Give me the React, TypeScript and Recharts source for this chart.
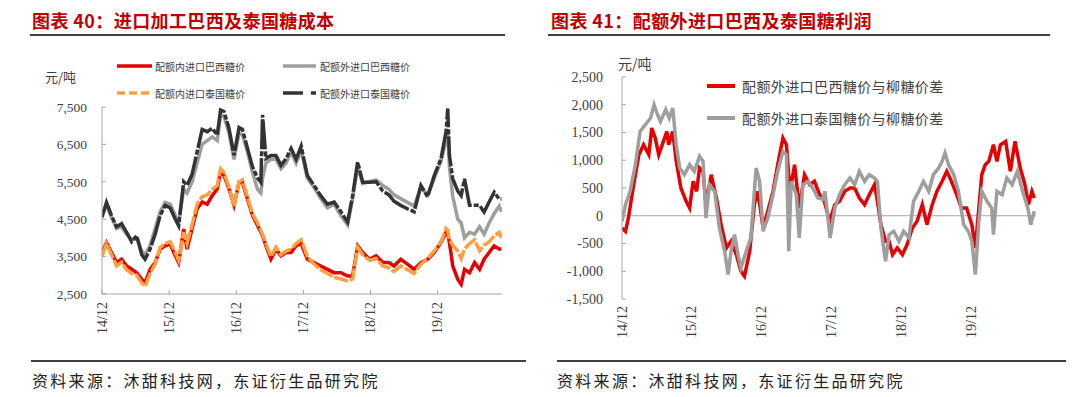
import React from 'react';
import { LineChart, Line, XAxis, YAxis, ReferenceLine } from 'recharts';

// ---------- Left chart: import processing cost (元/吨) ----------
const leftMonths = [
  0, 0.8, 1.7, 2.6, 3.5, 4.4, 5.3, 6.2, 7.1, 7.7, 8.6, 9.5, 10.4, 11.3, 12.2, 13.1, 13.7, 14.6, 15.2, 16.1,
  17, 17.9, 18.8, 19.7, 20.6, 21.2, 21.8, 22.7, 23.6, 24.5, 25.1, 26, 26.9, 27.8, 28.4, 28.7, 29.3, 30.2, 31.1, 32,
  32.9, 33.8, 34.7, 35.6, 36.7, 37.9, 39.1, 40.3, 41.5, 42.7, 43.9, 44.8, 45.7, 46.6, 47.8, 49, 50.2, 51.3, 52.2, 53.4,
  54.6, 55.8, 57, 58.2, 59.4, 60.6, 61.5, 61.8, 62.1, 62.7, 63.6, 64.2, 64.8, 65.7, 66.6, 67.5, 68.3, 69.2, 70.1, 71, 71.4,
];
const brazilInQuota = [
  3600, 3880, 3610, 3340, 3430, 3250, 3160, 3070, 2890, 2800, 3160, 3340, 3700, 3790, 3830, 3520, 3340, 4240, 3700, 4240,
  4780, 4960, 4900, 5130, 5310, 5760, 5670, 5310, 4870, 5490, 5490, 5040, 4600, 4330, 4150, 4060, 3790, 3430, 3700, 3520,
  3610, 3610, 3790, 3850, 3430, 3340, 3250, 3160, 3070, 3070, 2980, 2980, 3790, 3610, 3430, 3520, 3340, 3340, 3250, 3430,
  3300, 3160, 3340, 3430, 3610, 3880, 4150, 4100, 3880, 3250, 2890, 2760, 3160, 3070, 3340, 3160, 3430, 3610, 3790, 3700, 3700,
];
const brazilOutQuota = [
  4650, 4850, 4550, 4250, 4300, 4100, 3950, 4000, 3650, 3550, 3800, 4250, 4700, 4950, 4900, 4600, 4400, 5300, 5200, 5500,
  6000, 6500, 6600, 6700, 6600, 7300, 7250, 6800, 6100, 6800, 6750, 6300, 5750, 5300, 5200, 5600, 6000, 6100, 6100, 5850,
  6000, 6300, 6000, 6350, 5600, 5350, 5050, 4800, 4900, 4600, 4350, 5050, 5900, 5450, 5500, 5550, 5400, 5300, 5150, 5050,
  4950, 4850, 5350, 5150, 5600, 6050, 6600, 6900, 5900, 5100, 4500, 4400, 4000, 4150, 4100, 4300, 4100, 4400, 4650, 4850, 4700,
];
const thaiInQuota = [
  3500, 3850, 3550, 3250, 3350, 3150, 3050, 3000, 2800, 2700, 3050, 3300, 3750, 3850, 3900, 3600, 3400, 4150, 3850, 4350,
  4900, 5100, 5150, 5300, 5400, 5850, 5750, 5350, 4850, 5500, 5550, 5100, 4650, 4400, 4200, 4100, 3850, 3500, 3750, 3550,
  3650, 3700, 3850, 3950, 3500, 3300, 3150, 3050, 2950, 2900, 2850, 2900, 3750, 3550, 3400, 3450, 3250, 3200, 3100, 3250,
  3150, 3050, 3300, 3450, 3650, 3900, 4250, 4200, 3950, 3800, 3650, 3450, 3700, 3850, 3950, 3650, 3800, 3900, 4050, 4150, 4000,
];
const thaiOutQuota = [
  4550, 4950, 4600, 4300, 4380, 4150, 3900, 4060, 3550, 3430, 3700, 4100, 4600, 4870, 4800, 4500, 4330, 5500, 5400, 5700,
  6300, 6900, 6840, 6930, 6750, 7420, 7380, 6930, 6210, 6950, 6900, 6400, 5900, 5600, 5490, 7290, 6120, 6200, 6200, 5940,
  6120, 6390, 6100, 6450, 5670, 5400, 5130, 4900, 4960, 4700, 4420, 5130, 6030, 5490, 5490, 5500, 5250, 5150, 4980, 4870,
  4780, 4700, 5400, 5100, 5670, 6120, 6840, 7460, 6210, 5580, 5250, 5130, 5580, 4870, 4870, 4870, 4690, 4960, 5220, 5040, 5040,
];
const leftYTicks = [2500, 3500, 4500, 5500, 6500, 7500];

// ---------- Right chart: over-quota import margin vs 柳糖 (元/吨) ----------
const brazilSpreadMonths = [
  0, 0.6, 1.1, 2, 2.9, 3.7, 4.6, 5.1, 5.7, 6.3, 7.1, 7.7, 8, 8.7, 9.3, 10.1, 11, 11.6, 12.2, 12.8,
  13.3, 13.9, 14.4, 15.3, 16.2, 17, 17.9, 18.7, 19.6, 20.4, 21, 21.9, 22.7, 23.3, 24.2, 25, 25.9, 26.7, 27.6, 28.2,
  28.8, 29.6, 30.4, 31.3, 32.2, 33, 33.9, 34.7, 35.6, 36.5, 37.3, 38.2, 39.1, 39.9, 40.7, 41.6, 42.4, 43.3, 43.8, 44.4,
  45.2, 45.8, 46.4, 47.2, 48.1, 48.9, 49.8, 50.6, 51.5, 52.3, 53.2, 54, 54.9, 55.7, 56.5, 57.4, 58.2, 59.1, 60, 60.6,
  61.2, 61.7, 62.3, 62.9, 63.7, 64.3, 64.9, 65.8, 66.6, 67.4, 68.3, 69.1, 69.7, 70.3, 70.7,
];
const brazilSpread = [
  -220, -280, -40, 560, 1100, 1280, 1100, 1580, 1400, 1100, 1340, 1520, 1280, 1520, 980, 500, 260, 140, 620, 440,
  860, 800, 200, 740, 320, -160, -580, -460, -700, -1000, -1090, -640, 200, 440, -220, 80, 440, 920, 1400, 1280,
  440, 920, 140, 740, 560, 620, 380, 260, -100, 200, 260, 440, 500, 500, 320, 200, 380, 560, 260, -160,
  -460, -460, -700, -580, -700, -520, -220, -100, 200, -160, 200, 440, 620, 800, 620, 380, 140, 140, -160, -580,
  140, 740, 920, 980, 1280, 980, 1280, 1340, 800, 1340, 860, 560, 200, 440, 320,
];
const thaiSpreadMonths = [
  0, 0.6, 1.4, 2.3, 3.1, 4, 4.9, 5.5, 6.1, 6.6, 7.5, 8.1, 8.7, 9.3, 9.9, 10.7, 11.6, 12.4, 13.3, 13.9,
  14.4, 15, 15.9, 16.7, 17.6, 18.2, 18.7, 19.3, 19.9, 20.4, 21.3, 22.1, 23, 23.6, 24.2, 25, 25.9, 26.7, 27.6, 28.2,
  28.6, 29, 29.9, 30.4, 31, 31.9, 32.7, 33.6, 34.4, 34.8, 35.7, 36.5, 37.3, 38.2, 39.1, 39.9, 40.7, 41.6, 42.4, 43.3,
  43.8, 44.4, 45.2, 45.8, 46.6, 47.5, 48.3, 49.2, 50, 50.9, 51.7, 52.6, 53.4, 54.3, 54.9, 55.4, 56, 56.9, 57.7, 58.6,
  59.4, 60, 60.6, 61.2, 61.7, 62.6, 63.4, 63.7, 64.3, 65.2, 66, 66.9, 67.8, 68.7, 69.6, 70.1, 70.7,
];
const thaiSpread = [
  -100, 200, 440, 920, 1520, 1640, 1760, 2000, 1820, 1700, 1910, 1760, 1940, 1280, 860, 740, 920, 800, 1070, 980,
  -40, 560, 440, -220, -640, -1060, -640, -340, -700, -940, -640, -400, 860, 620, -280, -40, 380, 800, 1160, 1100,
  -640, 620, 380, -400, 560, 620, 500, 320, 300, 440, -400, 140, 380, 560, 680, 560, 800, 620, 740, 680,
  620, -220, -820, -340, -280, -460, -280, -400, 260, 440, 620, 440, 740, 860, 980, 1130, 920, 740, 440, -160,
  -280, -460, -1060, -100, 440, 260, 140, -340, 440, 380, 680, 560, 800, 440, 140, -160, 80,
];
const rightYTicks = [-1500, -1000, -500, 0, 500, 1000, 1500, 2000, 2500];

// ---------- shared x-axis ticks ----------
const xTickMonths = [0, 12, 24, 36, 48, 60];
const xTickLabels = ['14/12', '15/12', '16/12', '17/12', '18/12', '19/12'];

const leftData = leftMonths.map((m, i) => ({
  m,
  brazilIn: brazilInQuota[i],
  brazilOut: brazilOutQuota[i],
  thaiIn: thaiInQuota[i],
  thaiOut: thaiOutQuota[i],
}));

const rightData = (() => {
  const map = new Map<number, any>();
  brazilSpreadMonths.forEach((m, i) => {
    const row = map.get(m) || { m };
    row.brazil = brazilSpread[i];
    map.set(m, row);
  });
  thaiSpreadMonths.forEach((m, i) => {
    const row = map.get(m) || { m };
    row.thai = thaiSpread[i];
    map.set(m, row);
  });
  return Array.from(map.values()).sort((a, b) => a.m - b.m);
})();

const SERIF = '"Liberation Serif", "Times New Roman", serif';
const CJK = '"Noto Sans CJK SC", sans-serif';
const AXIS = '#A6A6A6';
const TXT = '#404040';

const fmt = (v: number) => v.toLocaleString('en-US');
const xLabel = (v: number) => xTickLabels[xTickMonths.indexOf(v)] ?? '';

const makeXTick = (fontSize: number) => (props: any) => {
  const { x, y, payload } = props;
  return (
    <text
      x={x}
      y={y}
      transform={`rotate(-90, ${x}, ${y})`}
      textAnchor="end"
      dominantBaseline="central"
      fontFamily={SERIF}
      fontSize={fontSize}
      fill={TXT}
    >
      {xLabel(payload.value)}
    </text>
  );
};

const LeftXTick = makeXTick(14);
const RightXTick = makeXTick(14);

const Title = ({ left, text }: { left: number; text: string }) => (
  <div
    style={{
      position: 'absolute',
      left,
      top: 8,
      lineHeight: '24px',
      fontSize: 18,
      fontWeight: 700,
      color: '#C00000',
      fontFamily: CJK,
      letterSpacing: 0.4,
      whiteSpace: 'nowrap',
    }}
  >
    {text}
  </div>
);

const Rule = ({ left, top, width }: { left: number; top: number; width: number }) => (
  <div style={{ position: 'absolute', left, top, width, height: 2, background: '#404040' }} />
);

const Source = ({ left }: { left: number }) => (
  <div
    style={{
      position: 'absolute',
      left,
      top: 370,
      lineHeight: '20px',
      fontSize: 16,
      color: '#222',
      fontFamily: CJK,
      letterSpacing: 2.3,
      whiteSpace: 'nowrap',
    }}
  >
    资料来源：沐甜科技网，东证衍生品研究院
  </div>
);

export default function App() {
  return (
    <div
      style={{
        position: 'absolute',
        left: 0,
        top: 0,
        width: 1080,
        height: 397,
        background: '#fff',
        overflow: 'hidden',
      }}
    >
      <Title left={32} text="图表 40：进口加工巴西及泰国糖成本" />
      <Rule left={30} top={34} width={475} />
      <Title left={551} text="图表 41：配额外进口巴西及泰国糖利润" />
      <Rule left={548} top={34} width={502} />

      {/* Left chart */}
      <div style={{ position: 'absolute', left: 0, top: 0 }}>
        <LineChart width={540} height={340} data={leftData} margin={{ top: 107, right: 38, bottom: 6, left: 42 }}>
          <XAxis
            dataKey="m"
            type="number"
            domain={[0, 71.5]}
            ticks={xTickMonths}
            allowDataOverflow
            height={40}
            stroke={AXIS}
            tickSize={-4}
            tickMargin={12}
            tick={LeftXTick}
            interval={0}
          />
          <YAxis
            type="number"
            domain={[2500, 7500]}
            ticks={leftYTicks}
            width={60}
            stroke={AXIS}
            tickSize={-4}
            tickMargin={19}
            tickFormatter={fmt}
            tick={{ fontFamily: SERIF, fontSize: 13.5, fill: TXT }}
            interval={0}
          />
          <Line dataKey="brazilIn" type="linear" stroke="#E60000" strokeWidth={3.5} dot={false} isAnimationActive={false} />
          <Line dataKey="brazilOut" type="linear" stroke="#9E9E9E" strokeWidth={3.5} dot={false} isAnimationActive={false} />
          <Line dataKey="thaiIn" type="linear" stroke="#FFA040" strokeWidth={3.5} dot={false} strokeDasharray="14 2" isAnimationActive={false} />
          <Line dataKey="thaiOut" type="linear" stroke="#333333" strokeWidth={3.5} dot={false} strokeDasharray="30 2 5 2" isAnimationActive={false} />
        </LineChart>
      </div>

      {/* Left legend + unit */}
      <svg style={{ position: 'absolute', left: 0, top: 0 }} width={540} height={110}>
        <text x={45} y={76} fontFamily={CJK} fontSize={13} fill={TXT} dominantBaseline="central">元/吨</text>
        <line x1={117} x2={152} y1={66} y2={66} stroke="#E60000" strokeWidth={3.5} />
        <text x={155} y={66} fontFamily={CJK} fontSize={10} fill={TXT} dominantBaseline="central">配额内进口巴西糖价</text>
        <line x1={283} x2={316} y1={66} y2={66} stroke="#9E9E9E" strokeWidth={3.5} />
        <text x={320} y={66} fontFamily={CJK} fontSize={10} fill={TXT} dominantBaseline="central">配额外进口巴西糖价</text>
        <line x1={117} x2={152} y1={93} y2={93} stroke="#FFA040" strokeWidth={3.5} strokeDasharray="8 4" />
        <text x={155} y={93} fontFamily={CJK} fontSize={10} fill={TXT} dominantBaseline="central">配额内进口泰国糖价</text>
        <line x1={283} x2={316} y1={93} y2={93} stroke="#333333" strokeWidth={3.5} strokeDasharray="20 8 5" />
        <text x={320} y={93} fontFamily={CJK} fontSize={10} fill={TXT} dominantBaseline="central">配额外进口泰国糖价</text>
      </svg>

      {/* Right chart */}
      <div style={{ position: 'absolute', left: 540, top: 0 }}>
        <LineChart width={540} height={340} data={rightData} margin={{ top: 77, right: 44, bottom: 1, left: 22 }}>
          <XAxis
            dataKey="m"
            type="number"
            domain={[0, 71]}
            ticks={xTickMonths}
            allowDataOverflow
            height={40}
            axisLine={false}
            tickLine={false}
            tickSize={0}
            tickMargin={7}
            tick={RightXTick}
            interval={0}
          />
          <YAxis
            type="number"
            domain={[-1500, 2500]}
            ticks={rightYTicks}
            width={60}
            stroke={AXIS}
            tickSize={-4}
            tickMargin={23}
            tickFormatter={fmt}
            tick={{ fontFamily: SERIF, fontSize: 14, fill: TXT }}
            interval={0}
          />
          <ReferenceLine y={0} stroke={AXIS} strokeWidth={1} />
          <Line dataKey="brazil" type="linear" stroke="#E60000" strokeWidth={3.5} dot={false} connectNulls isAnimationActive={false} />
          <Line dataKey="thai" type="linear" stroke="#9E9E9E" strokeWidth={3.5} dot={false} connectNulls isAnimationActive={false} />
        </LineChart>
      </div>

      {/* Right legend + unit */}
      <svg style={{ position: 'absolute', left: 540, top: 0 }} width={540} height={140}>
        <text x={78} y={63} fontFamily={CJK} fontSize={14} fill={TXT} dominantBaseline="central">元/吨</text>
        <line x1={167} x2={195} y1={86} y2={86} stroke="#E60000" strokeWidth={4} />
        <text x={202} y={86} fontFamily={CJK} fontSize={14} letterSpacing={0.4} fill={TXT} dominantBaseline="central">配额外进口巴西糖价与柳糖价差</text>
        <line x1={167} x2={195} y1={118} y2={118} stroke="#9E9E9E" strokeWidth={4} />
        <text x={202} y={118} fontFamily={CJK} fontSize={14} letterSpacing={0.4} fill={TXT} dominantBaseline="central">配额外进口泰国糖价与柳糖价差</text>
      </svg>

      <Rule left={31} top={360} width={495} />
      <Rule left={557} top={360} width={509} />
      <Source left={32} />
      <Source left={557} />
    </div>
  );
}
